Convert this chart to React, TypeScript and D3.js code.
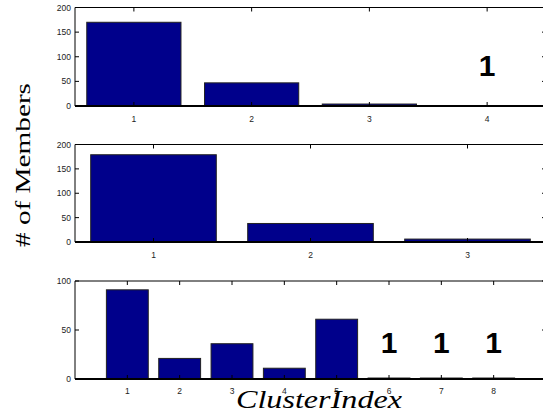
import * as d3 from 'd3';

// cluster sizes for the three runs
const clusters1 = [1, 2, 3, 4];
const members1 = [170, 47, 4, 1];
const clusters2 = [1, 2, 3];
const members2 = [179, 38, 6];
const clusters3 = [1, 2, 3, 4, 5, 6, 7, 8];
const members3 = [91, 21, 36, 11, 61, 1, 1, 1];

const yTicks1 = [0, 50, 100, 150, 200];
const yTicks2 = [0, 50, 100, 150, 200];
const yTicks3 = [0, 50, 100];

// clusters that hold a single member get a big "1" above them
const singles1 = [4];
const singles2: number[] = [];
const singles3 = [6, 7, 8];

const xLims = [[0.5, 4.5], [0.5, 3.5], [0, 9]];
const yMaxes = [200, 200, 100];

const BAR = '#00008b';
const LEFT = 75;
const RIGHT = 546;

interface PanelProps {
  cats: number[];
  vals: number[];
  yTicks: number[];
  singles: number[];
  xLim: number[];
  yMax: number;
  top: number;
  bottom: number;
  labelY: number;
  oneLift: number;
}

const Panel = ({ cats, vals, yTicks, singles, xLim, yMax, top, bottom, labelY, oneLift }: PanelProps) => {
  const x = d3.scaleLinear().domain(xLim).range([LEFT, RIGHT]);
  const y = d3.scaleLinear().domain([0, yMax]).range([bottom, top]);
  const step = x(1) - x(0);
  const bw = step * 0.8;
  const tl = 4;

  return (
    <g>
      {/* frame */}
      <line x1={LEFT} x2={RIGHT} y1={top} y2={top} stroke="#000" strokeWidth={1} />
      <line x1={LEFT} x2={LEFT} y1={top} y2={bottom} stroke="#000" strokeWidth={1} />
      <line x1={RIGHT} x2={RIGHT} y1={top} y2={bottom} stroke="#000" strokeWidth={1} />

      {/* bars */}
      {cats.map((c, i) => (
        <rect
          key={c}
          x={x(c) - bw / 2}
          y={y(vals[i])}
          width={bw}
          height={y(0) - y(vals[i])}
          fill={BAR}
          stroke="#222"
          strokeWidth={1}
        />
      ))}

      {/* baseline */}
      <line x1={LEFT} x2={RIGHT} y1={y(0)} y2={y(0)} stroke="#000" strokeWidth={2} />

      {/* x ticks */}
      {cats.map(c => (
        <g key={'xt' + c}>
          <line x1={x(c)} x2={x(c)} y1={top} y2={top + tl} stroke="#000" />
          <line x1={x(c)} x2={x(c)} y1={bottom} y2={bottom - tl} stroke="#000" />
          <text
            x={x(c)}
            y={labelY}
            textAnchor="middle"
            fontFamily="'Liberation Sans', Arial, sans-serif"
            fontSize={8.5}
            fill="#222"
          >
            {c}
          </text>
        </g>
      ))}

      {/* y ticks */}
      {yTicks.map(t => (
        <g key={'yt' + t}>
          <line x1={LEFT} x2={LEFT + tl} y1={y(t)} y2={y(t)} stroke="#000" />
          <line x1={RIGHT} x2={RIGHT - tl} y1={y(t)} y2={y(t)} stroke="#000" />
          <text
            x={LEFT - 4}
            y={y(t) + 3}
            textAnchor="end"
            fontFamily="'Liberation Sans', Arial, sans-serif"
            fontSize={8.5}
            fill="#222"
          >
            {t}
          </text>
        </g>
      ))}

      {singles.map(c => (
        <text
          key={'s' + c}
          x={x(c)}
          y={y(0) - oneLift}
          textAnchor="middle"
          fontFamily="'Liberation Sans', Arial, sans-serif"
          fontWeight="bold"
          fontSize={30}
          fill="#000"
        >
          1
        </text>
      ))}
    </g>
  );
};

export default function App() {
  return (
    <svg
      width={543}
      height={415}
      style={{ position: 'absolute', left: 0, top: 0, background: '#fff' }}
    >
      <Panel cats={clusters1} vals={members1} yTicks={yTicks1} singles={singles1}
        xLim={xLims[0]} yMax={yMaxes[0]} top={7.5} bottom={106} labelY={122} oneLift={30} />
      <Panel cats={clusters2} vals={members2} yTicks={yTicks2} singles={singles2}
        xLim={xLims[1]} yMax={yMaxes[1]} top={144.5} bottom={242} labelY={258} oneLift={30} />
      <Panel cats={clusters3} vals={members3} yTicks={yTicks3} singles={singles3}
        xLim={xLims[2]} yMax={yMaxes[2]} top={281} bottom={379} labelY={394} oneLift={26} />

      <text
        transform="translate(29.5,165) rotate(-90)"
        textAnchor="middle"
        fontFamily="'Liberation Serif', 'DejaVu Serif', serif"
        fontSize={22}
        textLength={164}
        lengthAdjust="spacingAndGlyphs"
        fill="#000"
      >
        # of Members
      </text>
      <text
        x={319}
        y={408}
        textAnchor="middle"
        fontFamily="'Liberation Serif', 'DejaVu Serif', serif"
        fontStyle="italic"
        fontSize={26}
        textLength={166}
        lengthAdjust="spacingAndGlyphs"
        fill="#000"
      >
        ClusterIndex
      </text>
    </svg>
  );
}
